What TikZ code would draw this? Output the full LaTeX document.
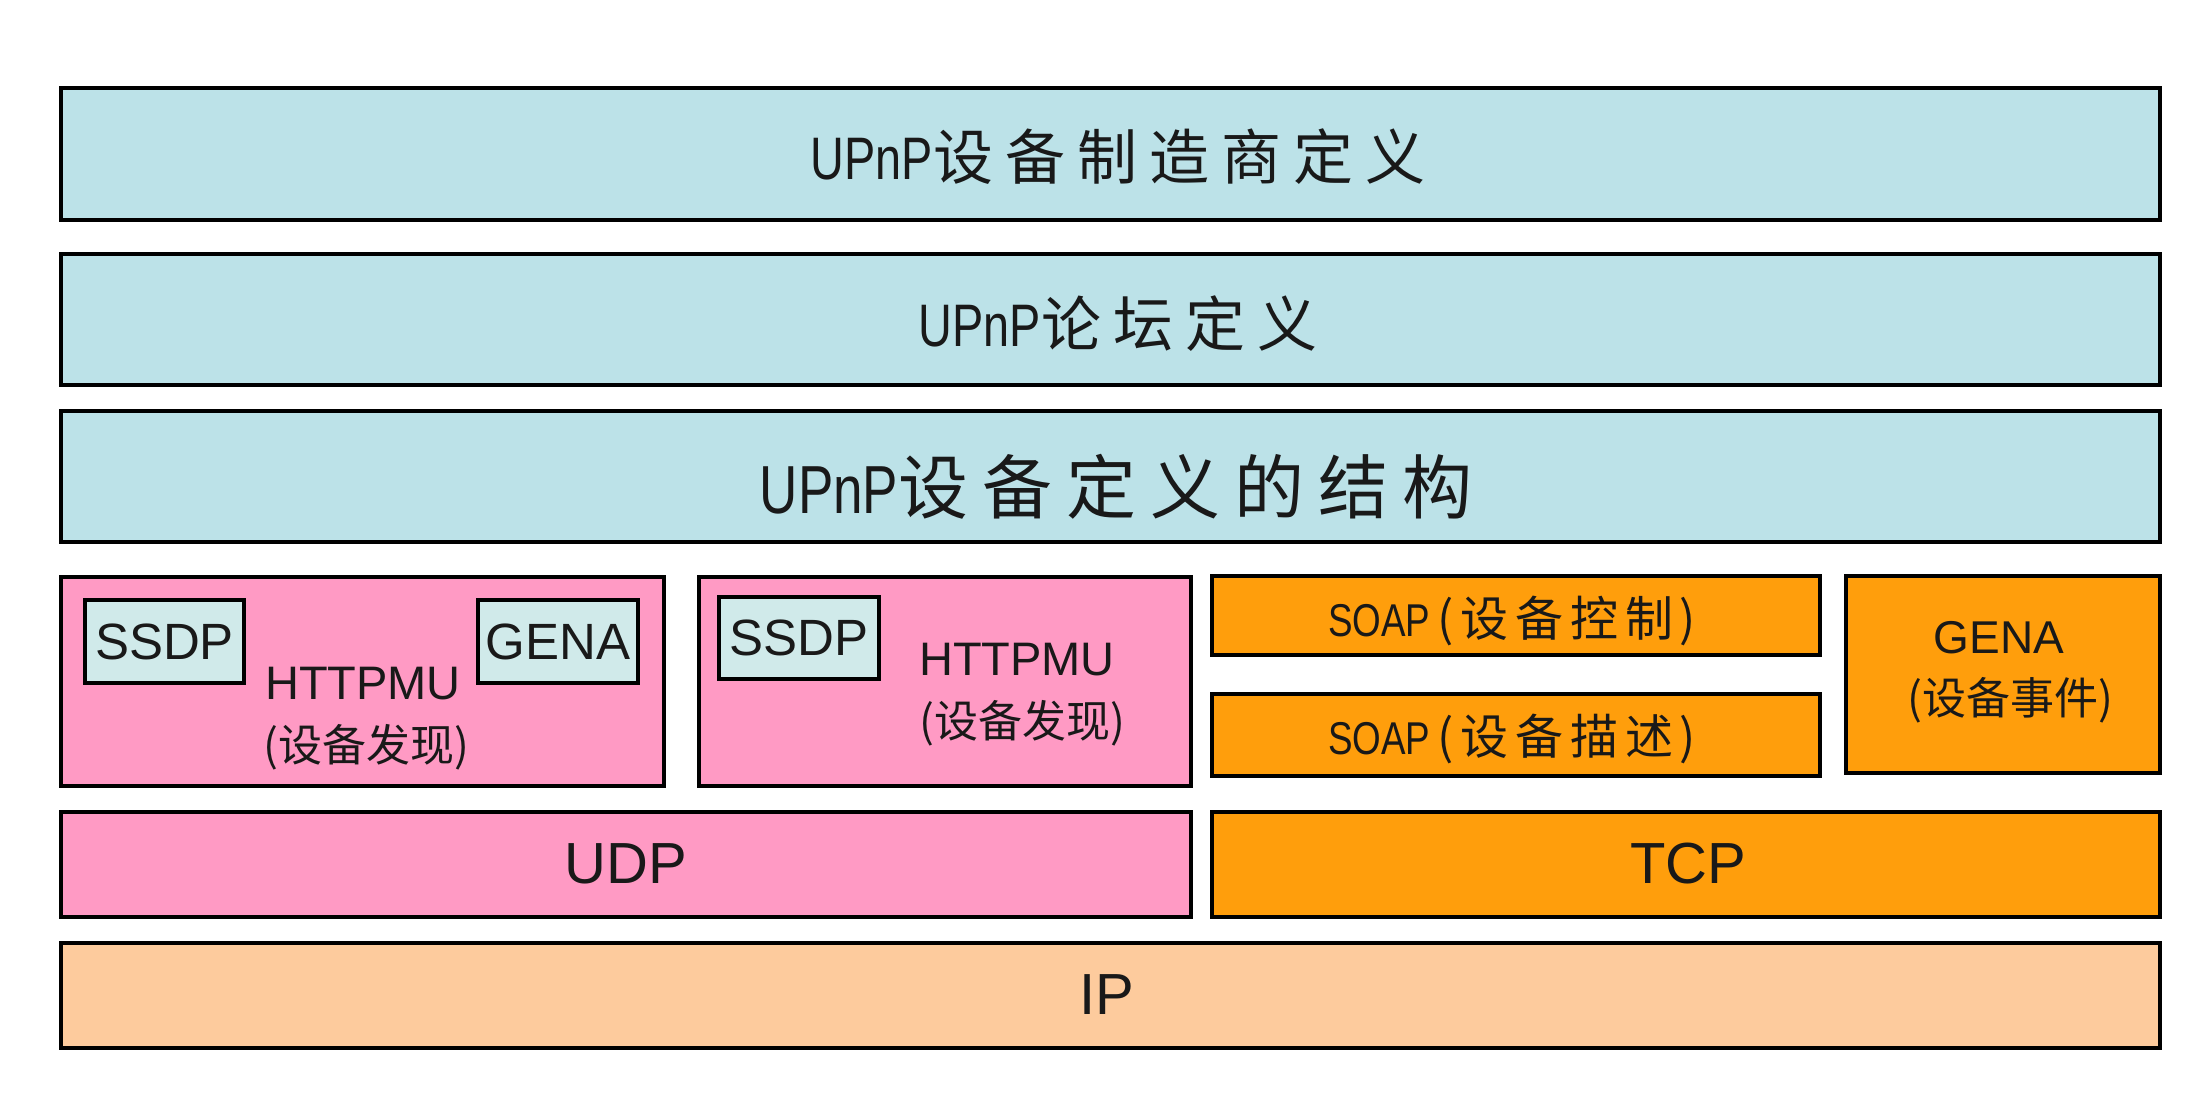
\documentclass[tikz,border=0pt]{standalone}
\usepackage{fontspec}
\setmainfont{Liberation Sans}
\newfontfamily\cjk{Noto Sans CJK SC}
\newfontfamily\cjksp[LetterSpace=20]{Noto Sans CJK SC}
\newfontfamily\cjkmid[LetterSpace=14]{Noto Sans CJK SC}
\newcommand\narrow[2]{\scalebox{#1}[1]{#2}}
\definecolor{lblue}{HTML}{BCE2E8}
\definecolor{pinkf}{HTML}{FF9AC4}
\definecolor{orangef}{HTML}{FF9E0C}
\definecolor{peach}{HTML}{FDCB9D}
\definecolor{smallf}{HTML}{D0EAEA}
\tikzset{
  layer/.style={draw=black, line width=3.5pt, rectangle, inner sep=0pt},
  lbl/.style={inner sep=0pt, text=black!90},
}
\begin{document}
\begin{tikzpicture}[x=1pt,y=-1pt]
\useasboundingbox[fill=white] (0,0) rectangle (2198,1094);
% big blue layers
\node[layer, fill=lblue, minimum width=2099pt, minimum height=132pt] (l1) at (1110.5,154) {};
\node[layer, fill=lblue, minimum width=2099pt, minimum height=131pt] (l2) at (1110.5,319.5) {};
\node[layer, fill=lblue, minimum width=2099pt, minimum height=131pt] (l3) at (1110.5,476.5) {};
\node[lbl] (t1) at (1118,157) {\fontsize{60}{60}\selectfont\narrow{0.78}{UPnP}\cjksp\fontsize{60}{60}\selectfont 设备制造商定义};
\node[lbl] (t2) at (1118,324) {\fontsize{60}{60}\selectfont\narrow{0.78}{UPnP}\cjksp\fontsize{60}{60}\selectfont 论坛定义};
\node[lbl] (t3) at (1116,487) {\fontsize{68}{68}\selectfont\narrow{0.78}{UPnP}\cjksp\fontsize{70}{70}\selectfont 设备定义的结构};
% pink discovery boxes
\node[layer, fill=pinkf, minimum width=603pt, minimum height=209pt] (p1) at (362.5,681.5) {};
\node[layer, fill=pinkf, minimum width=492pt, minimum height=209pt] (p2) at (945,681.5) {};
\node[layer, fill=smallf, minimum width=159pt, minimum height=83pt] (s1) at (164.5,641.5) {};
\node[lbl] (s1t) at (s1) {\fontsize{51}{51}\selectfont SSDP};
\node[layer, fill=smallf, minimum width=160pt, minimum height=83pt] (g1) at (558,641.5) {};
\node[lbl] (g1t) at (g1) {\fontsize{51}{51}\selectfont GENA};
\node[lbl] (h1) at (363,684) {\fontsize{47}{47}\selectfont HTTPMU};
\node[lbl] (h1c) at (366,747) {\cjk\fontsize{44}{44}\selectfont (设备发现)};
\node[layer, fill=smallf, minimum width=160pt, minimum height=82pt] (s2) at (799,638) {};
\node[lbl] (s2t) at (s2) {\fontsize{51}{51}\selectfont SSDP};
\node[lbl] (h2) at (1017,660) {\fontsize{47}{47}\selectfont HTTPMU};
\node[lbl] (h2c) at (1022,723) {\cjk\fontsize{44}{44}\selectfont (设备发现)};
% orange SOAP / GENA
\node[layer, fill=orangef, minimum width=608pt, minimum height=79pt] (so1) at (1516,615.5) {};
\node[lbl] (so1t) at (1512,621) {\fontsize{46}{46}\selectfont\narrow{0.8}{SOAP}\,\cjkmid\fontsize{48}{48}\selectfont (设备控制)};
\node[layer, fill=orangef, minimum width=608pt, minimum height=82pt] (so2) at (1516,735) {};
\node[lbl] (so2t) at (1512,739) {\fontsize{46}{46}\selectfont\narrow{0.8}{SOAP}\,\cjkmid\fontsize{48}{48}\selectfont (设备描述)};
\node[layer, fill=orangef, minimum width=314pt, minimum height=197pt] (ge) at (2003,674.5) {};
\node[lbl] (get) at (1999,638) {\fontsize{46}{46}\selectfont GENA};
\node[lbl] (gec) at (2010,700) {\cjk\fontsize{44}{44}\selectfont (设备事件)};
% transport
\node[layer, fill=pinkf, minimum width=1130pt, minimum height=105pt] (udp) at (626,864.5) {};
\node[lbl] (udpt) at (626,864) {\fontsize{58}{58}\selectfont UDP};
\node[layer, fill=orangef, minimum width=948pt, minimum height=105pt] (tcp) at (1686,864.5) {};
\node[lbl] (tcpt) at (1688,864) {\fontsize{58}{58}\selectfont TCP};
% IP
\node[layer, fill=peach, minimum width=2099pt, minimum height=105pt] (ip) at (1110.5,995.5) {};
\node[lbl] (ipt) at (1107,995) {\fontsize{58}{58}\selectfont IP};
\end{tikzpicture}
\end{document}
